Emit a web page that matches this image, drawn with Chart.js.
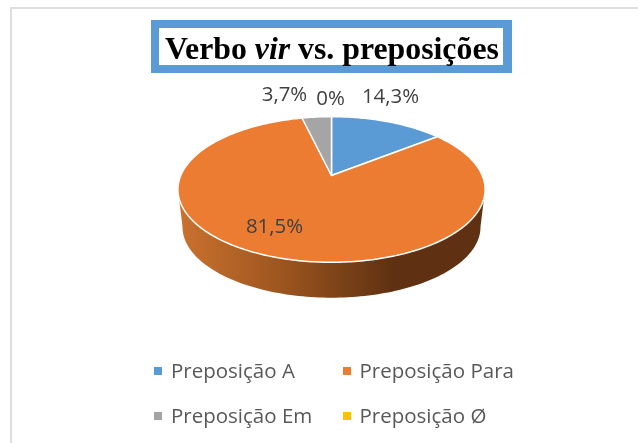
<!DOCTYPE html>
<html><head><meta charset="utf-8">
<style>html,body{margin:0;padding:0;background:#fff}#w{position:relative;width:638px;height:443px}</style>
<script src="https://cdn.jsdelivr.net/npm/chart.js@4"></script>
</head><body><div id="w"><canvas id="c" width="638" height="443"></canvas></div>
<script>
const categories = ['Preposição A', 'Preposição Para', 'Preposição Em', 'Preposição Ø'];
const seriesValues = [14.3, 81.5, 3.7, 0];
const valueLabels = ['14,3%', '81,5%', '3,7%', '0%'];
const sliceColors = ['#5B9BD5', '#EB7C32', '#A5A5A5', '#FFC000'];
const titleParts = [['Verbo ', 'bold'], ['vir', 'italic bold'], [' vs. preposições', 'bold']];

// perspective of the tilted pie: a point on the unit circle is projected on the page
const TILT = 0.1918, SQUASH = 0.4653, DEPTH = 36, FOOT = 0.97;
function project(arc, angle, lower) {
  const u = Math.cos(angle), v = Math.sin(angle), d = 1 - TILT * v, R = arc.outerRadius;
  const s = lower ? FOOT : 1;
  return [arc.x + s * R * u / d, arc.y + s * R * SQUASH * v / d + (lower ? DEPTH + 2 : 0)];
}
const pie3d = {
  id: 'pie3d',
  beforeDatasetDraw(chart, args) {
    const ctx = chart.ctx, arcs = args.meta.data, a0 = arcs[0];
    // side wall, front half of the disc
    const from = 0.19, to = Math.PI - 0.19, n = 120;
    const g = ctx.createLinearGradient(178, 0, 485, 0);
    g.addColorStop(0, '#CB722F'); g.addColorStop(0.33, '#9E561F');
    g.addColorStop(0.7, '#5F3112'); g.addColorStop(1, '#5F3112');
    ctx.save();
    ctx.beginPath();
    for (let i = 0; i <= n; i++) { const p = project(a0, from + (to - from) * i / n, true); ctx.lineTo(p[0], p[1]); }
    for (let i = n; i >= 0; i--) { const p = project(a0, from + (to - from) * i / n, false); ctx.lineTo(p[0], p[1]); }
    ctx.closePath(); ctx.fillStyle = g; ctx.fill();
    // top face: one projected path per library arc
    arcs.forEach(arc => {
      if (arc.endAngle - arc.startAngle <= 0) return;
      ctx.beginPath(); ctx.moveTo(arc.x, arc.y);
      const steps = Math.max(4, Math.ceil((arc.endAngle - arc.startAngle) * 60));
      for (let i = 0; i <= steps; i++) {
        const p = project(arc, arc.startAngle + (arc.endAngle - arc.startAngle) * i / steps, false);
        ctx.lineTo(p[0], p[1]);
      }
      ctx.closePath();
      ctx.fillStyle = arc.options.backgroundColor; ctx.fill();
      ctx.strokeStyle = arc.options.borderColor; ctx.lineWidth = arc.options.borderWidth;
      ctx.lineJoin = 'round'; ctx.stroke();
    });
    ctx.restore();
    return false;
  },
  afterDraw(chart) {
    const ctx = chart.ctx, arcs = chart.getDatasetMeta(0).data, A = chart.options.plugins.pie3d;
    ctx.save();
    // frame
    ctx.fillStyle = '#DEDEDE';
    ctx.fillRect(10, 7, 628, 2); ctx.fillRect(10, 7, 2, 436);
    // title box
    ctx.fillStyle = '#5B9BD5'; ctx.fillRect(151, 20, 361, 53);
    ctx.fillStyle = '#fff'; ctx.fillRect(159, 28, 344, 37);
    ctx.textBaseline = 'alphabetic'; ctx.textAlign = 'left';
    let x = 165; ctx.fillStyle = '#000';
    titleParts.forEach(([t, w]) => { ctx.font = w + ' 31.8px "Liberation Serif"'; ctx.fillText(t, x, 58.5); x += ctx.measureText(t).width; });
    // value labels, placed relative to the centre of the pie
    ctx.font = '20.4px "Open Sans"'; ctx.textAlign = 'center'; ctx.textBaseline = 'middle'; ctx.fillStyle = '#404040';
    arcs.forEach((arc, i) => {
      const [dx, dy] = A.labelOffset[i];
      ctx.fillText(valueLabels[i], arc.x + dx, arc.y + dy);
    });
    // legend in two columns
    ctx.font = '20.5px "Open Sans"'; ctx.textAlign = 'left';
    categories.forEach((t, i) => {
      const px = A.legendX[i % 2], py = A.legendY[Math.floor(i / 2)];
      ctx.fillStyle = sliceColors[i]; ctx.fillRect(px, py - 4, 8, 8);
      ctx.fillStyle = '#595959'; ctx.fillText(t, px + (i % 2 ? 16.5 : 17), py + 1);
    });
    ctx.restore();
  }
};
new Chart(document.getElementById('c'), {
  type: 'pie',
  data: { labels: categories, datasets: [{ data: seriesValues, backgroundColor: sliceColors, borderColor: '#FFFFFF', borderWidth: 1.5 }] },
  options: {
    responsive: false, animation: false,
    layout: { padding: { left: 180, right: 155, top: 24, bottom: 116 } },
    plugins: { legend: { display: false }, tooltip: { enabled: false },
      pie3d: { labelOffset: [[59, -78], [-57, 52], [-47, -80], [-1, -76]], legendX: [154, 343], legendY: [371, 416] } }
  },
  plugins: [pie3d]
});
</script></body></html>
